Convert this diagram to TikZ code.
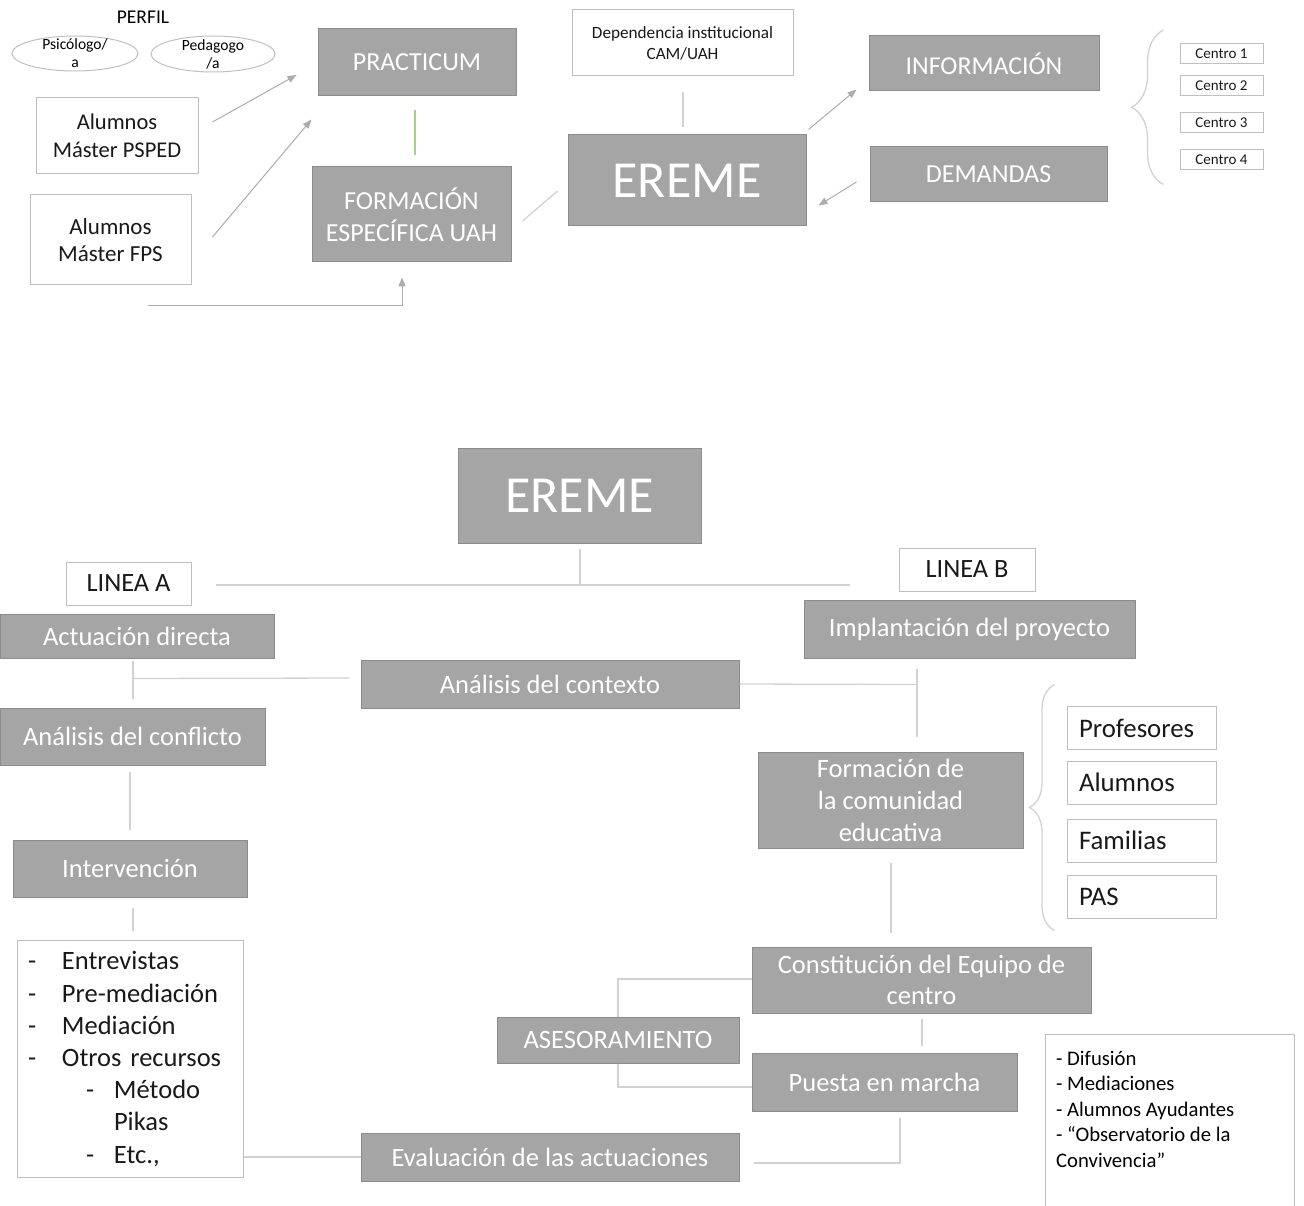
\documentclass[tikz,border=0pt]{standalone}
\usepackage{fontspec}
\setmainfont{Carlito}
\usetikzlibrary{arrows.meta, calc, decorations.pathreplacing, shapes.geometric}
\definecolor{boxfill}{RGB}{165,165,165}
\definecolor{boxedge}{RGB}{140,140,140}
\definecolor{framec}{RGB}{191,191,191}
\definecolor{linkc}{RGB}{210,210,210}
\definecolor{arrowc}{RGB}{172,172,172}
\definecolor{greenl}{RGB}{169,209,142}
\newcommand{\setfs}[2]{\fontsize{#1}{#2}\selectfont}

\begin{document}
\begin{tikzpicture}[x=1pt, y=-1pt,
    sz/.style 2 args={minimum width=#1pt, minimum height=#2pt},
    gbox/.style={draw=boxedge, fill=boxfill, text=white, line width=1pt,
      inner sep=0pt, align=center, font=\setfs{26.5}{32}},
    wbox/.style={draw=framec, fill=white, text=black!90, line width=1pt,
      inner sep=0pt, align=center},
    oval/.style={ellipse, draw=framec, line width=1pt, inner sep=0pt},
    olabel/.style={align=center, inner sep=0pt, font=\setfs{15.6}{18}},
    link/.style={draw=linkc, line width=1.3pt},
    flow/.style={draw=arrowc, line width=1pt, -{Triangle[length=9pt, width=7pt]}},
    curly/.style={draw=linkc, line width=1.3pt, decorate,
      decoration={brace, amplitude=#1pt}}]
  \useasboundingbox (0,0) rectangle (1304,1206);

  \node[font=\setfs{19.5}{22}] (perfil) at (143,17) {PERFIL};
  \node[oval, sz={126}{35}, label={[olabel]center:Psicólogo/\\a}] (psi) at (75,53.5) {};
  \node[oval, sz={124}{36}, label={[olabel]center:Pedagogo\\/a}] (ped) at (213,54) {};
  \node[wbox, sz={162}{76}, font=\setfs{22.5}{28}] (pspe) at (117,136) {Alumnos\\Máster PSPED};
  \node[wbox, sz={161}{90}, font=\setfs{23}{27}] (fps) at (110.5,240) {Alumnos\\Máster FPS};
  \node[gbox, sz={198}{67}, font=\setfs{26}{32}] (prac) at (417,62.5) {PRACTICUM};
  \node[gbox, sz={199}{95}, font=\setfs{26}{32}] (form) at (411.5,214.5) {FORMACIÓN\\ESPECÍFICA UAH};
  \node[wbox, sz={221}{66}, font=\setfs{17.2}{21}] (dep) at (682.5,43) {Dependencia institucional\\CAM/UAH};
  \node[gbox, sz={238}{91}, font=\setfs{52}{60}] (ereA) at (687,180.5) {EREME};
  \node[gbox, sz={230}{55}, font=\setfs{25.8}{32}] (info) at (984,63.5) {INFORMACIÓN};
  \node[gbox, sz={237}{55}, font=\setfs{26}{32}] (dem) at (988.5,174.5) {DEMANDAS};
  \foreach \y [count=\i] in {53.5,86,123,160}
    \node[wbox, sz={83}{20}, font=\setfs{15}{16}] (c\i) at (1221.5,\y) {Centro \i};

  \draw[flow] ($(pspe.east)+(14,-14)$) -- ($(prac.west)+(-21,12.5)$);
  \draw[flow] ($(fps.east)+(21,-3)$) -- ($(prac.south west)+(-6,23)$);
  \draw[link, draw=greenl] ($(prac.south)+(-2,14)$) -- ($(prac.south)+(-2,59)$);
  \draw[link] ($(form.east)+(11,6.5)$) -- ($(ereA.west)+(-10,10.5)$);
  \draw[link] ($(dep.south)+(0.5,16)$) -- ($(dep.south)+(0.5,51)$);
  \draw[flow] ($(ereA.north east)+(2,-5)$) -- ($(info.south west)+(-12,-2)$);
  \draw[flow] ($(dem.west)+(-13,7.5)$) -- ($(ereA.south east)+(12,-21)$);
  \draw[flow] ($(fps.south)+(37.5,20)$) -| ($(form.south)+(-9.5,15)$);
  \draw[curly=32] ($(c4.south west)+(-16,14)$) -- ($(c1.north west)+(-16,-13)$);

  \node[gbox, sz={243}{95}, font=\setfs{52}{60}] (ereB) at (579.5,495.5) {EREME};
  \node[wbox, sz={125}{43}, font=\setfs{26.4}{28}] (lina) at (128.5,583.5) {LINEA A};
  \node[wbox, sz={136}{43}, font=\setfs{26.4}{28}] (linb) at (967,569.5) {LINEA B};
  \node[gbox, sz={274}{44}] (actu) at (137,636) {Actuación directa};
  \node[gbox, sz={331}{58}] (impl) at (969.5,629) {Implantación del proyecto};
  \node[gbox, sz={378}{48}] (cont) at (550,684) {Análisis del contexto};
  \node[gbox, sz={265}{57}] (conf) at (132.5,736.5) {Análisis del conflicto};
  \node[gbox, sz={234}{57}] (inte) at (130,868.5) {Intervención};
  \node[wbox, sz={226}{237}, align=left, text width=204pt, font=\setfs{26.5}{32.2}] (list) at (130,1059)
    {\makebox[34pt][l]{-}Entrevistas\\
     \makebox[34pt][l]{-}Pre-mediación\\
     \makebox[34pt][l]{-}Mediación\\
     \makebox[34pt][l]{-}Otros recursos\\
     \hspace*{58pt}\makebox[28pt][l]{-}Método\\
     \hspace*{86pt}Pikas\\
     \hspace*{58pt}\makebox[28pt][l]{-}Etc.,};
  \node[gbox, sz={378}{48}] (eval) at (550,1157) {Evaluación de las actuaciones};
  \node[gbox, sz={265}{96}] (fcom) at (890.5,800) {Formación de\\la comunidad\\educativa};
  \foreach \t/\y [count=\i] in {Profesores/728, Alumnos/782.5, Familias/840.5, PAS/897}
    \node[wbox, sz={149}{43}, align=left, text width=125pt, font=\setfs{26.8}{28}] (g\i) at (1141.5,\y) {\t};
  \node[gbox, sz={339}{66}, font=\setfs{26.5}{31}] (cons) at (921.5,980) {Constitución del Equipo de\\centro};
  \node[gbox, sz={265}{58}] (pues) at (884.5,1082) {Puesta en marcha};
  \node[gbox, sz={242}{46}] (ases) at (618,1040) {ASESORAMIENTO};
  \node[anchor=north west, align=left, inner sep=0pt, font=\setfs{20.7}{25.5}] (difu) at (1056,1051)
    {- Difusión\\- Mediaciones\\- Alumnos Ayudantes\\- “Observatorio de la\\Convivencia”};
  \draw[draw=framec, line width=1pt] (1045,1212) |- (1294,1034) -- (1294,1212);

  \coordinate (hub) at ($(ereB.south)+(0.5,42)$);
  \draw[link] ($(ereB.south)+(0.5,5)$) -- (hub);
  \draw[link] ($(lina.east)+(24,1.5)$) -- ($(linb.west)+(-49,15.5)$);
  \draw[link] ($(actu.south)+(-4,2)$) -- ($(actu.south)+(-4,40)$);
  \draw[link] ($(actu.south)+(-4,20)$) -- ($(cont.west)+(-11,-6)$);
  \draw[link] (cont.east) -- ($(impl.south)+(-52.5,26)$);
  \draw[link] ($(impl.south)+(-52.5,10)$) -- ($(impl.south)+(-52.5,78)$);
  \draw[link] ($(conf.south)+(-2.5,6)$) -- ($(inte.north)+(0,-10)$);
  \draw[link] ($(inte.south)+(3,10)$) -- ($(inte.south)+(3,33)$);
  \draw[link] (list.east |- eval.west) -- (eval.west);
  \draw[link] ($(eval.east)+(14,6)$) -| ($(pues.south)+(15.5,6)$);
  \draw[link] ($(fcom.south)+(0.5,14)$) -- ($(fcom.south)+(0.5,84)$);
  \draw[link] ($(cons.south)+(0.5,5)$) -- ($(cons.south)+(0.5,32)$);
  \draw[link] (ases.north) |- ($(cons.west)+(0,-1)$);
  \draw[link] (ases.south) |- ($(pues.west)+(0,5)$);
  \draw[curly=25] ($(g4.south west)+(-12,11.5)$) -- ($(g1.north west)+(-12,-21.5)$);
\end{tikzpicture}
\end{document}
